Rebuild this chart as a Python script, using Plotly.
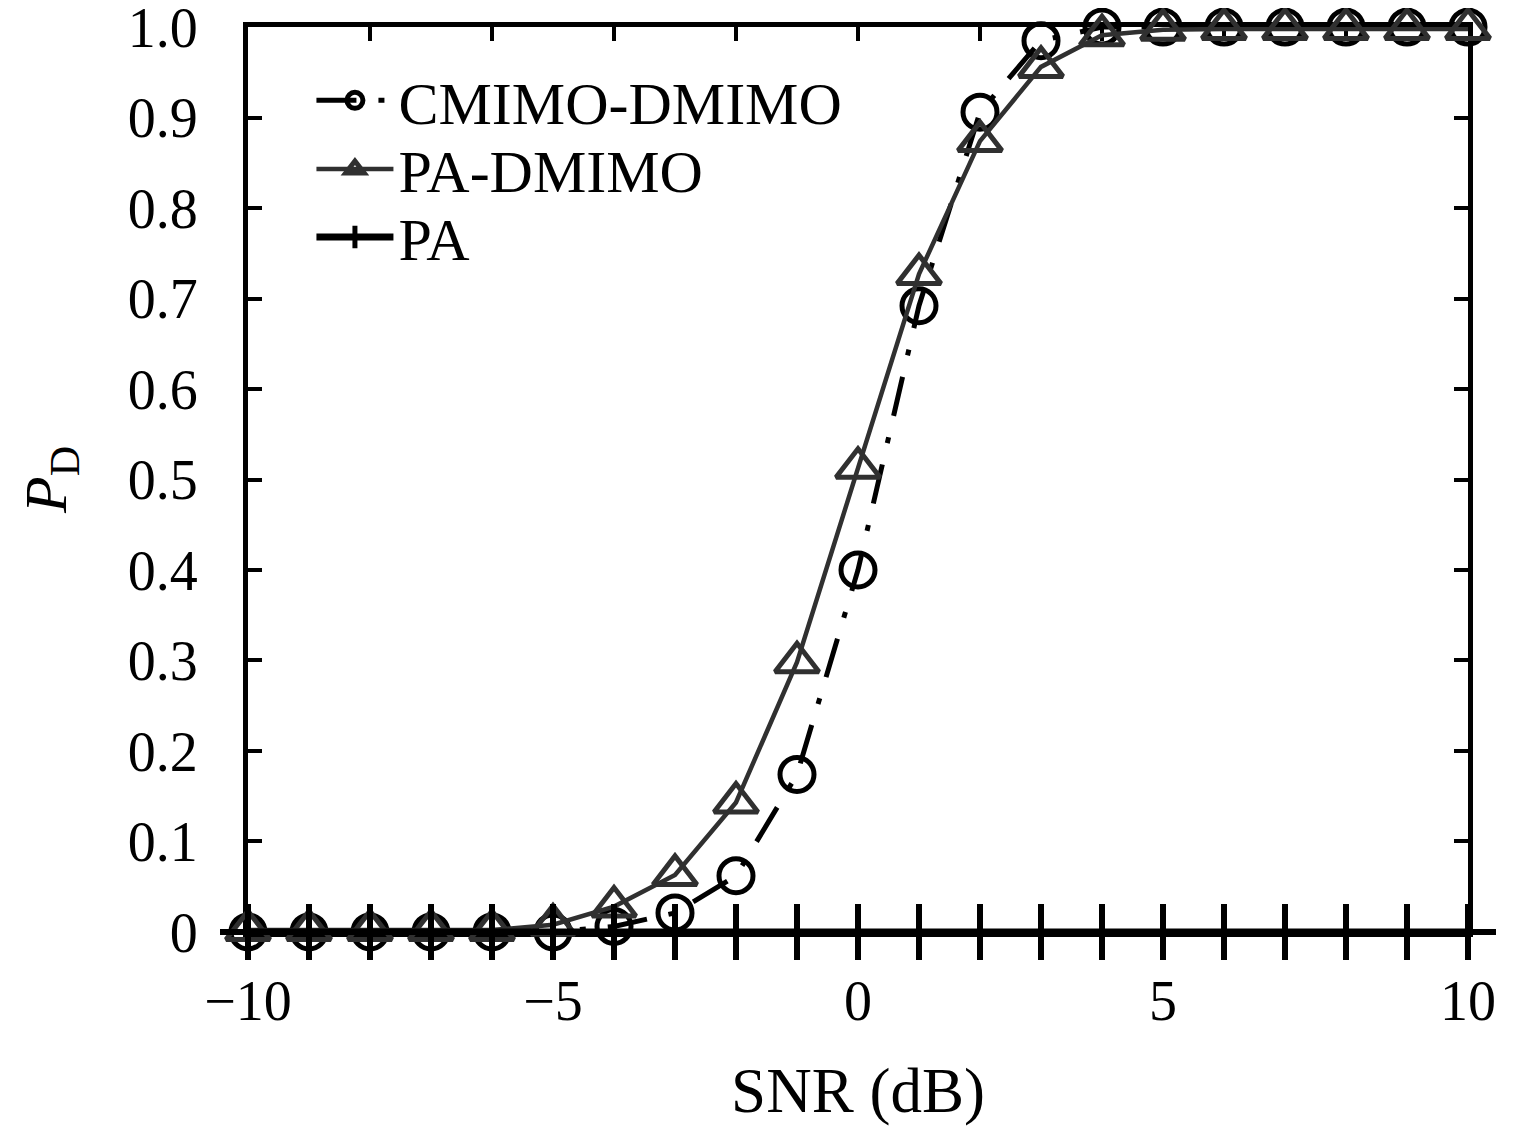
import plotly.graph_objects as go

snr = list(range(-10, 11))
cmimo_dmimo = [0, 0, 0, 0, 0, 0, 0.006, 0.021, 0.062, 0.174, 0.40, 0.692, 0.906, 0.985,
               1.0, 1.0, 1.0, 1.0, 1.0, 1.0, 1.0]
pa_dmimo = [0.002, 0.002, 0.002, 0.002, 0.002, 0.008, 0.028, 0.063, 0.143, 0.298, 0.513,
            0.727, 0.874, 0.956, 0.991, 0.997, 0.998, 0.998, 0.998, 0.998, 0.998]
pa = [0] * 21

x_tickvals = [-10, -5, 0, 5, 10]
x_ticktext = ["\u221210", "\u22125", "0", "5", "10"]
x_top_ticks = list(range(-10, 11, 2))
y_tickvals = [i / 10 for i in range(11)]
y_ticktext = ["0", "0.1", "0.2", "0.3", "0.4", "0.5", "0.6", "0.7", "0.8", "0.9", "1.0"]

FONT = "Liberation Serif"
fig = go.Figure()

fig.add_trace(go.Scatter(
    x=snr, y=cmimo_dmimo, name="CMIMO-DMIMO", mode="lines+markers", legend="legend",
    line=dict(color="black", width=5, dash="40px,22px,6px,22px"),
    marker=dict(symbol="circle-open", size=34, color="black", line=dict(width=5, color="black")),
    cliponaxis=False,
))
fig.add_trace(go.Scatter(
    x=snr, y=pa_dmimo, name="PA-DMIMO", mode="lines+markers", legend="legend2",
    line=dict(color="#303030", width=4.5),
    marker=dict(symbol="triangle-up-open", size=38, color="#303030", line=dict(width=5, color="#303030")),
    cliponaxis=False,
))
fig.add_trace(go.Scatter(
    x=snr, y=pa, name="PA", mode="lines+markers", legend="legend3",
    line=dict(color="black", width=7),
    marker=dict(symbol="cross-thin-open", size=40, color="black", line=dict(width=6, color="black")),
    cliponaxis=False,
))
# invisible carrier so the top tick axis is drawn
fig.add_trace(go.Scatter(
    x=snr, y=pa, xaxis="x2", mode="lines", line=dict(width=0), opacity=0,
    showlegend=False, hoverinfo="skip",
))

legend_common = dict(x=0.052, xanchor="left", yanchor="middle",
                     bgcolor="rgba(0,0,0,0)", font=dict(size=60, family=FONT),
                     itemwidth=77, tracegroupgap=0)

fig.update_layout(
    width=1519, height=1118,
    margin=dict(l=240, r=59, t=19, b=194),
    paper_bgcolor="white", plot_bgcolor="white",
    font=dict(family=FONT, size=56, color="black"),
    showlegend=True,
    legend=dict(y=0.919, **legend_common),
    legend2=dict(y=0.843, **legend_common),
    legend3=dict(y=0.768, **legend_common),
    xaxis=dict(range=[-10, 10], tickvals=x_tickvals, ticktext=x_ticktext,
               ticks="", showline=True, linewidth=5, linecolor="black", mirror=True,
               showgrid=False, zeroline=False, ticklabelstandoff=16, automargin=False,
               ticklabeloverflow="allow",
               tickfont=dict(size=56, family=FONT), layer="below traces",
               title=dict(text="SNR (dB)", font=dict(size=63, family=FONT), standoff=40)),
    xaxis2=dict(range=[-10, 10], overlaying="x", side="top", tickvals=x_top_ticks,
                ticks="inside", ticklen=14, tickwidth=4, tickcolor="black",
                showticklabels=False, showline=False, showgrid=False, zeroline=False,
                automargin=False, layer="below traces"),
    yaxis=dict(range=[-0.0001, 1.0001], tickvals=y_tickvals, ticktext=y_ticktext,
               ticks="inside", ticklen=14, tickwidth=4, tickcolor="black",
               showline=True, linewidth=5, linecolor="black", mirror="ticks",
               showgrid=False, zeroline=False, ticklabelstandoff=34, automargin=False,
               ticklabeloverflow="allow",
               tickfont=dict(size=56, family=FONT), layer="below traces",
               title=dict(text="<i>P</i><sub>D</sub>", font=dict(size=60, family=FONT), standoff=43)),
)

fig.write_html("out.html")
